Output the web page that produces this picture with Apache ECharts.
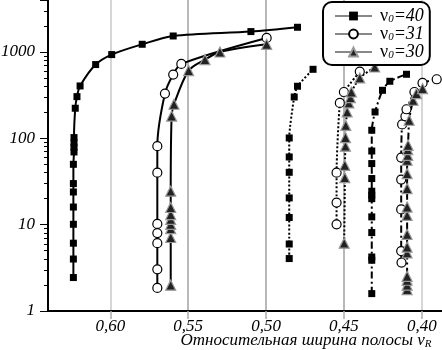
<!DOCTYPE html>
<html>
<head>
<meta charset="utf-8">
<style>
  html, body { margin: 0; padding: 0; background: #fff; }
  #chart { width: 442px; height: 350px; }
</style>
<script src="https://cdn.jsdelivr.net/npm/echarts@6/dist/echarts.min.js"></script>
</head>
<body>
<div id="chart"></div>
<script>
// точки [ширина полосы, значение]
var sq40Solid = [[0.6237,2.44],[0.6237,4.0],[0.6237,6.1],[0.6237,10.1],[0.6237,16],[0.6237,23.9],[0.6237,29.9],[0.6237,50],[0.6233,69.5],[0.6233,78.7],[0.6233,88.3],[0.6233,102],[0.6225,223],[0.6214,304],[0.6194,404],[0.6094,715],[0.5991,933],[0.5795,1228],[0.5596,1532],[0.5097,1723],[0.4798,1933]];
var ci31Solid = [[0.5698,1.85],[0.5698,3.04],[0.5698,6.1],[0.5698,8.0],[0.5698,10.2],[0.5698,40],[0.5698,81],[0.5649,330],[0.5596,547],[0.5544,727],[0.4996,1453]];
var tr30Solid = [[0.5612,1.99],[0.5612,7.1],[0.5612,9.0],[0.5612,10.1],[0.5612,11.5],[0.5612,13.1],[0.5612,15.8],[0.5612,24.4],[0.5606,181],[0.5591,248],[0.5497,609],[0.5392,817],[0.5296,1000],[0.4996,1228]];

var sq40Dot = [[0.4851,4.05],[0.4851,5.97],[0.4851,12.1],[0.4851,20.4],[0.4851,40.4],[0.4851,60.8],[0.4851,101],[0.4819,301],[0.4798,401],[0.4698,630]];
var ci31Dot = [[0.4547,10.1],[0.4547,18],[0.4547,40],[0.4526,257],[0.4500,344],[0.4398,593]];
var tr30Dot = [[0.4498,6.1],[0.4494,35],[0.4494,48.7],[0.4490,81],[0.4490,102],[0.4488,141],[0.4479,202],[0.4468,257],[0.4458,296],[0.4452,344],[0.4398,500],[0.4302,670]];

var sq40Dd = [[0.4321,1.59],[0.4321,3.87],[0.4321,4.22],[0.4321,8.1],[0.4321,12.3],[0.4321,20],[0.4321,21.9],[0.4321,24.4],[0.4321,34.2],[0.4321,51],[0.4321,71.3],[0.4321,124],[0.4300,202],[0.4252,360],[0.4205,458],[0.4098,552]];
var ci31Dd = [[0.4130,3.64],[0.4132,4.95],[0.4132,15],[0.4132,33.3],[0.4132,59.8],[0.4126,145],[0.4105,180],[0.4098,217],[0.4047,344],[0.3995,438],[0.3904,483]];
var tr30Dd = [[0.4094,1.77],[0.4094,1.99],[0.4094,2.27],[0.4094,2.52],[0.4094,4.7],[0.4094,5.5],[0.4094,7.7],[0.4094,12.8],[0.4094,16],[0.4094,26.2],[0.4094,39],[0.4094,55.7],[0.4090,63.6],[0.4090,74],[0.4088,83],[0.4081,162],[0.4056,276],[0.4034,330],[0.3995,377]];

var xTicks = [0.40, 0.45, 0.50, 0.55, 0.60];
var yTicks = [1, 10, 100, 1000];
var names = ['ν0=40', 'ν0=31', 'ν0=30'];

var serif = 'Liberation Serif';
var chart = echarts.init(document.getElementById('chart'));

// стили маркеров для трёх значений ν0
var marks = {
  'ν0=40': { symbol: 'rect', symbolSize: 7, itemStyle: { color: '#000', borderColor: '#000', borderWidth: 0 } },
  'ν0=31': { symbol: 'circle', symbolSize: 9, itemStyle: { color: '#fff', borderColor: '#000', borderWidth: 1.2 } },
  'ν0=30': { symbol: 'triangle', symbolSize: 10, itemStyle: { color: '#222', borderColor: '#999', borderWidth: 1.2 } }
};
var dashes = { solid: 'solid', dot: [2, 2], dd: [7, 3, 2, 3] };

function curve(name, data, dash, smooth) {
  var m = marks[name];
  return {
    type: 'line', name: name, data: data,
    symbol: m.symbol, symbolSize: m.symbolSize, itemStyle: m.itemStyle,
    showSymbol: true, smooth: smooth, z: 3,
    lineStyle: { color: '#000', width: 2, type: dashes[dash] }
  };
}

var option = {
  animation: false,
  grid: { left: 48, right: 0, top: 0, bottom: 39, containLabel: false, outerBoundsMode: 'none' },
  legend: {
    data: names,
    orient: 'vertical',
    left: 323, top: 2,
    padding: [5, 6, 4, 11],
    itemWidth: 37, itemHeight: 11, itemGap: 0,
    backgroundColor: '#fff',
    borderColor: '#000', borderWidth: 2, borderRadius: 9,
    lineStyle: { color: '#888', width: 2 },
    formatter: function (n) { return '{g|ν}{s|0}{i|' + n.slice(2) + '}'; },
    textStyle: {
      padding: [0, 0, 0, 3],
      rich: {
        g: { fontFamily: serif, fontSize: 18, color: '#000', lineHeight: 15 },
        s: { fontFamily: serif, fontStyle: 'italic', fontSize: 11, color: '#000', padding: [6, 0, 0, 0], lineHeight: 15 },
        i: { fontFamily: serif, fontStyle: 'italic', fontSize: 18, color: '#000', lineHeight: 15 }
      }
    }
  },
  xAxis: {
    type: 'value', inverse: true, min: 0.387, max: 0.64,
    name: '{t|Относительная ширина полосы ν}{s|R}',
    nameLocation: 'middle', nameGap: 21, nameMoveOverlap: false,
    nameTextStyle: {
      padding: [0, 0, 0, 122],
      rich: {
        t: { fontFamily: serif, fontStyle: 'italic', fontSize: 17, color: '#000' },
        s: { fontFamily: serif, fontStyle: 'italic', fontSize: 11, color: '#000', padding: [7, 0, 0, 0] }
      }
    },
    axisLine: { lineStyle: { color: '#000', width: 2 } },
    axisTick: { customValues: xTicks, length: 8, lineStyle: { color: '#aaa', width: 1.5 } },
    axisLabel: {
      customValues: xTicks, margin: 7,
      fontFamily: serif, fontStyle: 'italic', fontSize: 17, color: '#000',
      formatter: function (v) { return v.toFixed(2).replace('.', ','); }
    },
    splitLine: { show: true, lineStyle: { color: ['#c8c8c8', '#a0a0a0', '#a0a0a0', '#a0a0a0', '#c8c8c8'], width: 1.5 } }
  },
  yAxis: {
    type: 'log', logBase: 10, min: 1, max: 4000,
    axisLine: { show: true, lineStyle: { color: '#000', width: 2 } },
    axisTick: { show: true, length: 8, lineStyle: { color: '#000', width: 1 } },
    minorTick: { show: true, splitNumber: 9, length: 4, lineStyle: { color: '#000', width: 1 } },
    axisLabel: {
      margin: 13, showMaxLabel: false,
      fontFamily: serif, fontStyle: 'italic', fontSize: 17, color: '#000',
      formatter: function (v) { return yTicks.indexOf(Math.round(v)) >= 0 ? String(Math.round(v)) : ''; }
    },
    splitLine: { show: false }
  },
  series: [
    curve('ν0=40', sq40Solid, 'solid', 0.3),
    curve('ν0=31', ci31Solid, 'solid', 0.3),
    curve('ν0=30', tr30Solid, 'solid', 0.3),
    curve('ν0=40', sq40Dot, 'dot', 0.2),
    curve('ν0=31', ci31Dot, 'dot', 0.2),
    curve('ν0=30', tr30Dot, 'dot', 0.2),
    curve('ν0=40', sq40Dd, 'dd', 0.2),
    curve('ν0=31', ci31Dd, 'dd', 0.2),
    curve('ν0=30', tr30Dd, 'dd', 0.2)
  ]
};

chart.setOption(option);
</script>
</body>
</html>
